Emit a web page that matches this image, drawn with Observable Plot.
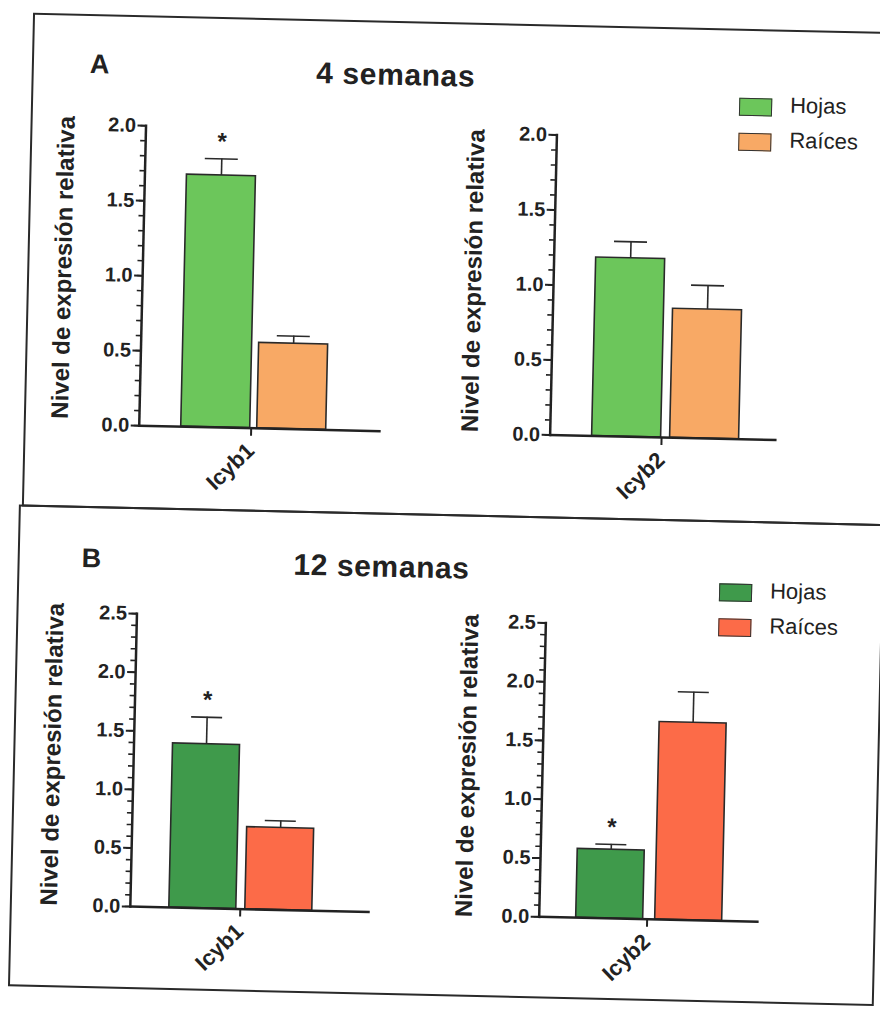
<!DOCTYPE html>
<html>
<head>
<meta charset="utf-8">
<script src="https://cdn.jsdelivr.net/npm/d3@7"></script>
<script src="https://cdn.jsdelivr.net/npm/@observablehq/plot@0.6"></script>
<style>
  html, body { margin: 0; padding: 0; background: #fff; }
  #page { position: relative; width: 880px; height: 1009px; overflow: hidden; background: #fff; }
  #fig { position: absolute; left: 0; top: 0; width: 880px; height: 1009px;
         transform: rotate(1.3deg); transform-origin: 440px 505px;
         font-family: "Liberation Sans", Arial, sans-serif; color: #222; }
  .box { position: absolute; border: 2px solid #2a2a2a; box-sizing: border-box; }
  .txt { position: absolute; white-space: nowrap; line-height: 1; }
  .bold { font-weight: bold; }
  .plotwrap { position: absolute; }
  .plotwrap svg { overflow: visible; }
  .sw { position: absolute; width: 33px; height: 18px; box-sizing: border-box; border: 1.5px solid #333; }
</style>
</head>
<body>
<div id="page"><div id="fig"></div></div>
<script>
// ---------------- data ----------------
const tissues = ["Hojas", "Raíces"];
const genes = ["Icyb1", "Icyb2"];
const panelTitles = ["4 semanas", "12 semanas"];
const panelLetters = ["A", "B"];
const yLabel = "Nivel de expresión relativa";

// 4 semanas (Hojas, Raíces)
const w4_icyb1_mean = [1.68, 0.57];
const w4_icyb1_err  = [0.11, 0.05];
const w4_icyb1_sig  = ["*", ""];
const w4_icyb2_mean = [1.19, 0.86];
const w4_icyb2_err  = [0.11, 0.16];
const w4_icyb2_sig  = ["", ""];

// 12 semanas (Hojas, Raíces)
const w12_icyb1_mean = [1.40, 0.70];
const w12_icyb1_err  = [0.23, 0.06];
const w12_icyb1_sig  = ["*", ""];
const w12_icyb2_mean = [0.585, 1.68];
const w12_icyb2_err  = [0.045, 0.26];
const w12_icyb2_sig  = ["*", ""];

const yTicks4 = [0, 0.5, 1.0, 1.5, 2.0];
const yTicks12 = [0, 0.5, 1.0, 1.5, 2.0, 2.5];

const colors4 = ["#6cc65b", "#f8a965"];
const colors12 = ["#3f9a4b", "#fc6b48"];

// ---------------- layout / style ----------------
const FONT = "Liberation Sans, Arial, sans-serif";
const INK = "#222";
const fig = document.getElementById("fig");

function addBox(l, t, w, h) {
  const d = document.createElement("div");
  d.className = "box";
  Object.assign(d.style, { left: l + "px", top: t + "px", width: w + "px", height: h + "px" });
  fig.appendChild(d);
}
function addText(str, { left, top, size, bold = false, center = false, spacing = 0, rotate = 0 }) {
  const d = document.createElement("div");
  d.className = "txt" + (bold ? " bold" : "");
  d.textContent = str;
  Object.assign(d.style, {
    left: left + "px", top: top + "px", fontSize: size + "px",
    letterSpacing: spacing + "px",
    transform: rotate ? `translate(-50%, -50%) rotate(${rotate}deg)` : (center ? "translateX(-50%)" : "none")
  });
  fig.appendChild(d);
}
function addLegend(colors, left, top) {
  tissues.forEach((t, i) => {
    const s = document.createElement("div");
    s.className = "sw";
    Object.assign(s.style, { left: left + "px", top: (top + i * 35) + "px", background: colors[i] });
    fig.appendChild(s);
    addText(t, { left: left + 51, top: top + i * 35 - 4, size: 22 });
  });
}

// panel frames
addBox(22, 22, 900, 494);
addBox(19, 514, 866, 482);

// panel letters and titles
addText(panelLetters[0], { left: 80, top: 59, size: 27, bold: true });
addText(panelTitles[0], { left: 386, top: 61, size: 30, bold: true, center: true, spacing: 0.6 });
addText(panelLetters[1], { left: 83, top: 553, size: 27, bold: true });
addText(panelTitles[1], { left: 383, top: 553, size: 30, bold: true, center: true, spacing: 0.6 });

addLegend(colors4, 730, 91);
addLegend(colors12, 721, 577);

const ML = 110, MT = 20, MR = 10, MB = 100;

function drawBars(cfg) {
  const data = tissues.map((t, i) => ({
    gene: cfg.gene, tissue: t, mean: cfg.mean[i], err: cfg.err[i], sig: cfg.sig[i]
  }));
  const yMax = cfg.ticks[cfg.ticks.length - 1];
  const minor = d3.range(0, Math.round(yMax * 10) + 1).map(k => k / 10);
  const chart = Plot.plot({
    width: ML + cfg.w + MR,
    height: MT + cfg.h + MB,
    marginLeft: ML, marginTop: MT, marginRight: MR, marginBottom: MB,
    style: { fontFamily: FONT, color: INK, background: "transparent", overflow: "visible" },
    fx: { domain: [cfg.gene], padding: 0, label: null },
    x: { domain: tissues, paddingInner: cfg.pi, paddingOuter: cfg.po, align: cfg.al, axis: null },
    y: { domain: [0, yMax], axis: null },
    color: { domain: tissues, range: cfg.colors },
    marks: [
      Plot.barY(data, { fx: "gene", x: "tissue", y: "mean", fill: "tissue", stroke: "#2a2a2a", strokeWidth: 1.6 }),
      Plot.ruleX(data, { fx: "gene", x: "tissue", y1: "mean", y2: d => d.mean + d.err, stroke: "#2a2a2a", strokeWidth: 1.6 }),
      Plot.tickY(data, { fx: "gene", x: "tissue", y: d => d.mean + d.err, insetLeft: 18, insetRight: 18, stroke: "#2a2a2a", strokeWidth: 1.6 }),
      Plot.text(data.filter(d => d.sig), { fx: "gene", x: "tissue", y: d => d.mean + d.err, text: "sig", dy: -17, fontSize: 24, fontWeight: "bold", fill: INK }),
      Plot.axisY({ ticks: minor, tickSize: 5, tickFormat: () => "", label: null, strokeWidth: 1.6, stroke: INK }),
      Plot.axisY({ ticks: cfg.ticks, tickSize: 8, tickPadding: 2, tickFormat: d3.format(".1f"), label: null,
                   fontSize: 20, fontWeight: "bold", strokeWidth: 2, stroke: INK, fill: INK }),
      Plot.axisFx({ anchor: "bottom", tickSize: 8, tickPadding: 11, tickRotate: -45, label: null, dx: cfg.fxDx,
                    fontSize: 22, fontWeight: "bold", strokeWidth: 2, stroke: INK, fill: INK }),
      Plot.ruleY([0], { stroke: INK, strokeWidth: 2.5 }),
      Plot.frame({ anchor: "left", stroke: INK, strokeWidth: 2.5 })
    ]
  });
  const wrap = document.createElement("div");
  wrap.className = "plotwrap";
  wrap.style.left = (cfg.ox - ML) + "px";
  wrap.style.top = (cfg.oy - cfg.h - MT) + "px";
  wrap.appendChild(chart);
  fig.appendChild(wrap);
  // y-axis title, centred beside the axis
  addText(yLabel, { left: cfg.ox - cfg.lab, top: cfg.oy - cfg.h / 2 + cfg.labDy, size: 24, bold: true, rotate: -90 });
}

drawBars({ gene: genes[0], mean: w4_icyb1_mean, err: w4_icyb1_err, sig: w4_icyb1_sig, ticks: yTicks4, colors: colors4,
           ox: 137, oy: 432, h: 300, w: 242, pi: 0.091, po: 0.617, al: 0.43, lab: 79, labDy: -6, fxDx: -9 });
drawBars({ gene: genes[1], mean: w4_icyb2_mean, err: w4_icyb2_err, sig: w4_icyb2_sig, ticks: yTicks4, colors: colors4,
           ox: 548, oy: 432, h: 300, w: 227, pi: 0.121, po: 0.506, al: 0.516, lab: 80, labDy: -2, fxDx: -2 });
drawBars({ gene: genes[0], mean: w12_icyb1_mean, err: w12_icyb1_err, sig: w12_icyb1_sig, ticks: yTicks12, colors: colors12,
           ox: 139, oy: 913, h: 293, w: 240, pi: 0.118, po: 0.628, al: 0.406, lab: 81, labDy: -4, fxDx: -10 });
drawBars({ gene: genes[1], mean: w12_icyb2_mean, err: w12_icyb2_err, sig: w12_icyb2_sig, ticks: yTicks12, colors: colors12,
           ox: 548, oy: 914, h: 294, w: 220, pi: 0.151, po: 0.459, al: 0.507, lab: 75, labDy: -2, fxDx: -2 });
</script>
</body>
</html>
